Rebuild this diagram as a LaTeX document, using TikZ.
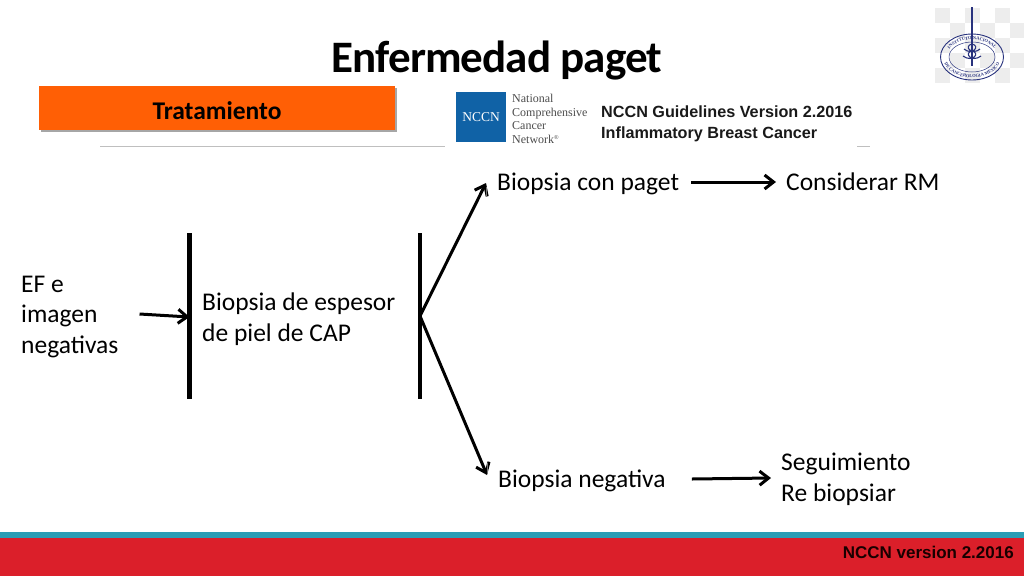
\documentclass[tikz,border=0pt]{standalone}
\usepackage{fontspec}
\setmainfont{Carlito}
\newfontfamily\arialfont{Liberation Sans}
\newfontfamily\timesfont{Liberation Serif}
\usetikzlibrary{shadows,decorations.text,arrows.meta}
\definecolor{barorange}{RGB}{255,95,5}
\definecolor{footred}{RGB}{219,31,42}
\definecolor{footteal}{RGB}{42,157,181}
\definecolor{nccnblue}{RGB}{16,98,166}
\definecolor{sealblue}{RGB}{40,50,125}
\tikzset{
  lbl/.style={anchor=west,inner sep=0pt,font=\fontsize{25.5}{30.5}\selectfont,align=left},
  vbar/.style={draw=none,fill=black,minimum width=4.5pt,minimum height=166pt,inner sep=0pt},
  arr/.style={line width=3pt,-{Straight Barb[length=9pt,width=14pt,line width=3pt]}},
  tick/.style={black!55,line width=.8pt},
}
\begin{document}
\begin{tikzpicture}[x=1pt,y=-1pt]
  \useasboundingbox (0,0) rectangle (1024,576);
  % footer
  \fill[footred] (0,538) rectangle (1024,576);
  \fill[footteal] (0,532) rectangle (1024,538);
  \node[anchor=east,inner sep=0pt,font=\arialfont\bfseries\fontsize{17}{19}\selectfont,text=black!90!red] (version) at (1014,552) {NCCN version 2.2016};
  % title
  \node[inner sep=0pt,font=\bfseries\fontsize{45}{48}\selectfont\addfontfeatures{LetterSpace=-2}] (title) at (497,61) {Enfermedad paget};
  \node[fill=barorange,minimum width=356pt,minimum height=44pt,inner sep=0pt,text height=22pt,text depth=0pt,drop shadow={shadow xshift=1.5pt,shadow yshift=-1.5pt,opacity=.35,fill=black},font=\bfseries\fontsize{25.5}{28}\selectfont] (tratamiento) at (217,108) {Tratamiento};
  \draw[black!25,line width=1pt] (100,146) -- (445,146);
  \draw[black!25,line width=1pt] (857,146) -- (870,146);
  % nccn logo
  \node[fill=nccnblue,minimum size=50pt,inner sep=0pt,text=white,font=\timesfont\fontsize{13.5}{14}\selectfont] (nccnbox) at (481,117) {NCCN};
  \node[anchor=west,inner sep=0pt,align=left,text=black!70,font=\timesfont\fontsize{12}{13.6}\selectfont] (nccnname) at (512,119) {National\\Comprehensive\\Cancer\\Network\textsuperscript{\fontsize{6}{6}\selectfont\textregistered}};
  \node[anchor=west,inner sep=0pt,align=left,text=black!90,font=\arialfont\bfseries\fontsize{16.2}{21}\selectfont] (guide) at (601,124) {NCCN Guidelines Version 2.2016\\Inflammatory Breast Cancer};
  % seal
  \foreach \i in {0,...,5}{
    \foreach \j in {0,...,4}{
      \pgfmathparse{int(mod(\i+\j,2))}
      \ifnum\pgfmathresult=0
        \fill[black!7] (935+\i*15,8+\j*15) rectangle +(15,15);
      \fi
    }
  }
  \draw[sealblue,line width=.9pt] (972,57) ellipse (31.5pt and 23pt);
  \draw[sealblue,line width=.5pt] (972,57) ellipse (23pt and 15pt);
  \path[decorate,decoration={text along path,text align=center,text={|\timesfont\bfseries\fontsize{4.5}{5}\selectfont\color{sealblue}|INSTITUTO NACIONAL}}] (947.4,54) arc[start angle=170,end angle=10,x radius=25pt,y radius=17.5pt];
  \path[decorate,decoration={text along path,text align=center,text={|\timesfont\bfseries\fontsize{4.5}{5}\selectfont\color{sealblue}|DE CANCEROLOGIA MEXICO}}] (943.4,60.6) arc[start angle=190,end angle=350,x radius=29pt,y radius=21pt];
  \draw[sealblue,line width=1.8pt] (972,7) -- (972,66);
  \draw[sealblue,line width=1.1pt] (964,49) .. controls (972,56) and (981,46) .. (972,44) (963,56) .. controls (972,63) and (981,53) .. (972,51) (980,49) .. controls (972,56) and (963,46) .. (972,44) (981,56) .. controls (972,63) and (963,53) .. (972,51);
  % diagram
  \node[vbar] (bara) at (189.5,316) {};
  \node[vbar] (barb) at (420,316) {};
  \node[lbl] (ef) at (21,317) {EF e\\imagen\\negativas};
  \node[lbl] (espesor) at (202,319) {Biopsia de espesor\\de piel de CAP};
  \node[lbl] (con) at (497,184) {Biopsia con paget};
  \node[lbl] (rm) at (786,182) {Considerar RM};
  \node[lbl] (neg) at (498,481) {Biopsia negativa};
  \node[lbl] (seg) at (781,479.5) {Seguimiento\\Re biopsiar};
  \draw[arr] ([xshift=21pt,yshift=3pt]ef.east) -- ([yshift=-1pt]bara.center);
  \draw[arr] (barb.center) -- ([xshift=-11pt,yshift=1pt]con.west);
  \draw[arr] (barb.center) -- ([xshift=-11pt,yshift=6pt]neg.west);
  \draw[arr] ([xshift=12pt,yshift=2pt]con.east) -- ([xshift=-10pt]rm.west);
  \draw[arr] ([xshift=26pt,yshift=2pt]neg.east) -- ([xshift=-10pt,yshift=1.5pt]seg.west);
  % small marks beside the tips
  \draw[tick] ([xshift=-10.5pt,yshift=-3pt]con.west) -- ([xshift=-10.5pt,yshift=-13pt]con.west);
  \draw[tick] ([xshift=-10.5pt,yshift=18pt]neg.west) -- ([xshift=-10.5pt,yshift=7pt]neg.west);
\end{tikzpicture}
\end{document}
